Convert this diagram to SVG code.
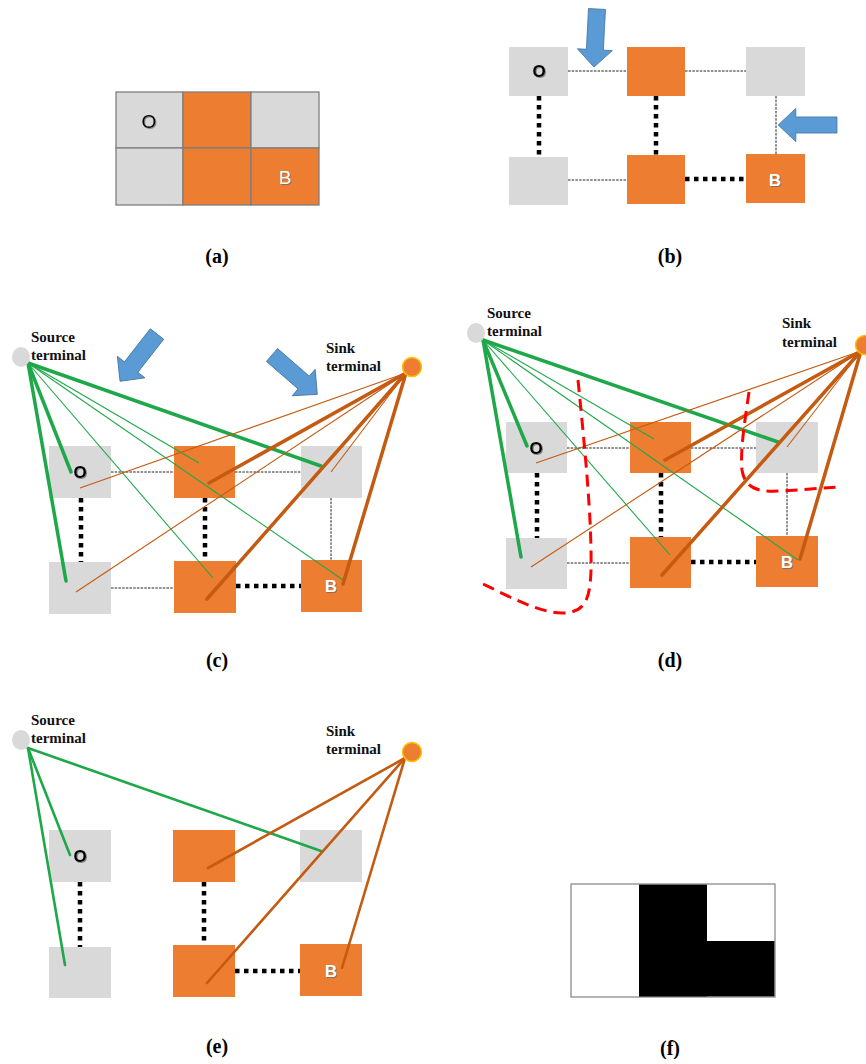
<svg xmlns="http://www.w3.org/2000/svg" xmlns:xlink="http://www.w3.org/1999/xlink" width="866" height="1064" viewBox="0 0 866 1064">
<style>
.gray{fill:#d9d9d9}
.org{fill:#ed7d31}
.cell{stroke:#7f7f7f;stroke-width:1.3}
.lab{font-family:"Liberation Serif","DejaVu Serif",serif;font-weight:bold;font-size:20px;fill:#000;text-anchor:middle}
.term{font-family:"Liberation Serif","DejaVu Serif",serif;font-weight:bold;font-size:15px;fill:#111}
.o{font-family:"Liberation Sans","DejaVu Sans",sans-serif;font-weight:bold;font-size:17px;fill:#000;text-anchor:middle;dominant-baseline:central;filter:url(#sh)}
.b{font-family:"Liberation Sans","DejaVu Sans",sans-serif;font-weight:bold;font-size:17px;fill:#fff;text-anchor:middle;dominant-baseline:central;filter:url(#sh)}
.thin{stroke:#222;stroke-width:1;stroke-dasharray:2.5 1.2;fill:none}
.thick{stroke:#000;stroke-width:4.5;stroke-dasharray:4.5 4.5;fill:none}
.gk{stroke:#1ea84a;stroke-width:3.5;stroke-linecap:round}
.gt{stroke:#1ea84a;stroke-width:1.1}
.ok{stroke:#c55a11;stroke-width:3.5;stroke-linecap:round}
.ot{stroke:#c55a11;stroke-width:1.1}
.gm{stroke:#1ea84a;stroke-width:2.6;stroke-linecap:round}
.om{stroke:#c55a11;stroke-width:2.6;stroke-linecap:round}
.arrow{fill:#5b9bd5;stroke:#41719c;stroke-width:0.8}
.src{fill:#d9d9d9}
.snk{fill:#ed7d31;stroke:#ffc000;stroke-width:1.5}
.cut{stroke:#ff0000;stroke-width:3;stroke-dasharray:12 7;fill:none}
</style>
<defs>
<path id="arr" d="M0,-8.5 L42,-8.5 L42,-17.5 L60,0 L42,17.5 L42,8.5 L0,8.5 Z"/>
<filter id="sh" x="-30%" y="-30%" width="160%" height="160%"><feDropShadow dx="1" dy="1" stdDeviation="0.7" flood-color="#666" flood-opacity="0.7"/></filter>
</defs>

<!-- Panel (a) -->
<g id="panel-a">
<g id="a-cell-O"><rect class="gray cell" x="116" y="92" width="67" height="56"/><text class="o" x="149" y="121" style="font-weight:normal;font-size:19px">O</text></g>
<g id="a-cell-2"><rect class="org cell" x="183" y="92" width="68" height="56"/></g>
<g id="a-cell-3"><rect class="gray cell" x="251" y="92" width="68" height="56"/></g>
<g id="a-cell-4"><rect class="gray cell" x="116" y="148" width="67" height="57"/></g>
<g id="a-cell-5"><rect class="org cell" x="183" y="148" width="68" height="57"/></g>
<g id="a-cell-B"><rect class="org cell" x="251" y="148" width="68" height="57"/><text class="b" x="285" y="177" style="font-weight:normal;font-size:19px">B</text></g>
<text class="lab" x="217" y="263">(a)</text>
</g>

<!-- Panel (b) -->
<g id="panel-b">
<g id="b-connectors">
<line class="thin" x1="568" y1="71" x2="627" y2="71"/>
<line class="thin" x1="685" y1="71" x2="746" y2="71"/>
<line class="thin" x1="568" y1="180" x2="627" y2="180"/>
<line class="thick" x1="685" y1="179" x2="746" y2="179"/>
<line class="thick" x1="539" y1="96" x2="539" y2="157"/>
<line class="thick" x1="656" y1="96" x2="656" y2="155"/>
<line class="thin" x1="776" y1="96" x2="776" y2="154"/>
</g>
<g id="b-n1"><rect class="gray" x="509" y="47" width="59" height="49"/><text class="o" x="539" y="71">O</text></g>
<g id="b-n2"><rect class="org" x="627" y="47" width="58" height="49"/></g>
<g id="b-n3"><rect class="gray" x="746" y="47" width="59" height="49"/></g>
<g id="b-n4"><rect class="gray" x="509" y="157" width="59" height="48"/></g>
<g id="b-n5"><rect class="org" x="627" y="155" width="58" height="49"/></g>
<g id="b-n6"><rect class="org" x="746" y="154" width="59" height="49"/><text class="b" x="775" y="180">B</text></g>
<use xlink:href="#arr" class="arrow" transform="translate(597,9) rotate(93) scale(0.97,1)"/>
<use xlink:href="#arr" class="arrow" transform="translate(837,125) rotate(180) scale(0.98,0.95)"/>
<text class="lab" x="670" y="263">(b)</text>
</g>

<!-- Panel (c) -->
<g id="panel-c">
<g id="c-connectors">
<line class="thin" x1="111" y1="472" x2="174" y2="472"/>
<line class="thin" x1="235" y1="472" x2="301" y2="472"/>
<line class="thin" x1="111" y1="588" x2="174" y2="588"/>
<line class="thick" x1="236" y1="586" x2="301" y2="586"/>
<line class="thick" x1="81" y1="498" x2="81" y2="562"/>
<line class="thick" x1="205" y1="498" x2="205" y2="561"/>
<line class="thin" x1="331" y1="498" x2="331" y2="560"/>
</g>
<g id="c-n1"><rect class="gray" x="49" y="446" width="62" height="52"/><text class="o" x="80" y="472">O</text></g>
<g id="c-n2"><rect class="org" x="174" y="446" width="61" height="52"/></g>
<g id="c-n3"><rect class="gray" x="301" y="446" width="61" height="52"/></g>
<g id="c-n4"><rect class="gray" x="49" y="562" width="62" height="52"/></g>
<g id="c-n5"><rect class="org" x="174" y="561" width="62" height="52"/></g>
<g id="c-n6"><rect class="org" x="301" y="560" width="61" height="52"/><text class="b" x="331" y="586">B</text></g>
<g id="c-links">
<line class="gk" x1="28" y1="363" x2="71" y2="472"/>
<line class="gk" x1="28" y1="363" x2="66" y2="581"/>
<line class="gk" x1="28" y1="363" x2="321" y2="466"/>
<line class="gt" x1="28" y1="363" x2="199" y2="463"/>
<line class="gt" x1="28" y1="363" x2="213" y2="578"/>
<line class="gt" x1="28" y1="363" x2="343" y2="580"/>
<line class="ot" x1="406" y1="373" x2="80" y2="488"/>
<line class="ot" x1="406" y1="373" x2="76" y2="592"/>
<line class="ok" x1="406" y1="373" x2="209" y2="483"/>
<line class="ok" x1="406" y1="373" x2="207" y2="599"/>
<line class="ot" x1="406" y1="373" x2="331" y2="472"/>
<line class="ok" x1="406" y1="373" x2="343" y2="584"/>
</g>
<g id="c-source"><ellipse class="src" cx="21" cy="357" rx="9" ry="10"/><text class="term" x="31" y="342">Source</text><text class="term" x="31" y="360">terminal</text></g>
<g id="c-sink"><circle class="snk" cx="412" cy="367" r="9.5"/><text class="term" x="326" y="353">Sink</text><text class="term" x="326" y="371">terminal</text></g>
<use xlink:href="#arr" class="arrow" transform="translate(157,334) rotate(128)"/>
<use xlink:href="#arr" class="arrow" transform="translate(272,355) rotate(41)"/>
<text class="lab" x="217" y="667">(c)</text>
</g>

<!-- Panel (d) -->
<g id="panel-d">
<g id="d-connectors">
<line class="thin" x1="567" y1="448" x2="630" y2="448"/>
<line class="thin" x1="691" y1="448" x2="756" y2="448"/>
<line class="thin" x1="567" y1="563" x2="630" y2="563"/>
<line class="thick" x1="691" y1="562" x2="756" y2="562"/>
<line class="thick" x1="537" y1="473" x2="537" y2="538"/>
<line class="thick" x1="661" y1="473" x2="661" y2="537"/>
<line class="thin" x1="787" y1="473" x2="787" y2="536"/>
</g>
<g id="d-n1"><rect class="gray" x="506" y="422" width="61" height="51"/><text class="o" x="536" y="448">O</text></g>
<g id="d-n2"><rect class="org" x="630" y="422" width="61" height="51"/></g>
<g id="d-n3"><rect class="gray" x="756" y="422" width="62" height="51"/></g>
<g id="d-n4"><rect class="gray" x="506" y="538" width="61" height="51"/></g>
<g id="d-n5"><rect class="org" x="630" y="537" width="61" height="51"/></g>
<g id="d-n6"><rect class="org" x="756" y="536" width="62" height="51"/><text class="b" x="787" y="562">B</text></g>
<g id="d-links">
<line class="gk" x1="483" y1="340" x2="527" y2="446"/>
<line class="gk" x1="483" y1="340" x2="521" y2="557"/>
<line class="gk" x1="483" y1="340" x2="778" y2="442"/>
<line class="gt" x1="483" y1="340" x2="654" y2="439"/>
<line class="gt" x1="483" y1="340" x2="670" y2="555"/>
<line class="gt" x1="483" y1="340" x2="798" y2="560"/>
<line class="ot" x1="861" y1="351" x2="536" y2="463"/>
<line class="ot" x1="861" y1="351" x2="531" y2="567"/>
<line class="ok" x1="861" y1="351" x2="665" y2="460"/>
<line class="ok" x1="861" y1="351" x2="662" y2="575"/>
<line class="ot" x1="861" y1="351" x2="787" y2="447"/>
<line class="ok" x1="861" y1="351" x2="800" y2="559"/>
</g>
<g id="d-cuts">
<path class="cut" d="M578,380 C585,450 592,520 591,570 C590,600 585,613 562,613 C540,613 510,597 481,583"/>
<path class="cut" d="M749,392 C745,420 740,450 742,470 C745,490 760,492 780,491 C800,490 820,488 838,487"/>
</g>
<g id="d-source"><ellipse class="src" cx="476" cy="333" rx="9" ry="10"/><text class="term" x="487" y="318">Source</text><text class="term" x="487" y="336">terminal</text></g>
<g id="d-sink"><circle class="snk" cx="865" cy="345" r="9.5"/><text class="term" x="782" y="328">Sink</text><text class="term" x="782" y="347">terminal</text></g>
<text class="lab" x="670" y="667">(d)</text>
</g>

<!-- Panel (e) -->
<g id="panel-e">
<g id="e-connectors">
<line class="thick" x1="80" y1="882" x2="80" y2="947"/>
<line class="thick" x1="204" y1="882" x2="204" y2="945"/>
<line class="thick" x1="235" y1="971" x2="300" y2="971"/>
</g>
<g id="e-n1"><rect class="gray" x="49" y="830" width="62" height="52"/><text class="o" x="80" y="856">O</text></g>
<g id="e-n2"><rect class="org" x="173" y="830" width="62" height="52"/></g>
<g id="e-n3"><rect class="gray" x="300" y="830" width="62" height="52"/></g>
<g id="e-n4"><rect class="gray" x="49" y="947" width="62" height="51"/></g>
<g id="e-n5"><rect class="org" x="173" y="945" width="62" height="52"/></g>
<g id="e-n6"><rect class="org" x="300" y="944" width="62" height="52"/><text class="b" x="331" y="971">B</text></g>
<g id="e-links">
<line class="gm" x1="28" y1="748" x2="70" y2="855"/>
<line class="gm" x1="28" y1="748" x2="65" y2="965"/>
<line class="gm" x1="28" y1="748" x2="321" y2="851"/>
<line class="om" x1="405" y1="758" x2="208" y2="868"/>
<line class="om" x1="405" y1="758" x2="207" y2="983"/>
<line class="om" x1="405" y1="758" x2="342" y2="968"/>
</g>
<g id="e-source"><ellipse class="src" cx="21" cy="740" rx="9" ry="10"/><text class="term" x="31" y="725">Source</text><text class="term" x="31" y="743">terminal</text></g>
<g id="e-sink"><circle class="snk" cx="412" cy="752" r="9.5"/><text class="term" x="326" y="736">Sink</text><text class="term" x="326" y="754">terminal</text></g>
<text class="lab" x="217" y="1053">(e)</text>
</g>

<!-- Panel (f) -->
<g id="panel-f">
<rect x="571" y="884" width="204" height="113" fill="#fff" stroke="#8c8c8c" stroke-width="1.3"/>
<rect x="639" y="884.6" width="68" height="112" fill="#000"/>
<rect x="707" y="941" width="67.4" height="55.4" fill="#000"/>
<text class="lab" x="670" y="1055">(f)</text>
</g>
</svg>
